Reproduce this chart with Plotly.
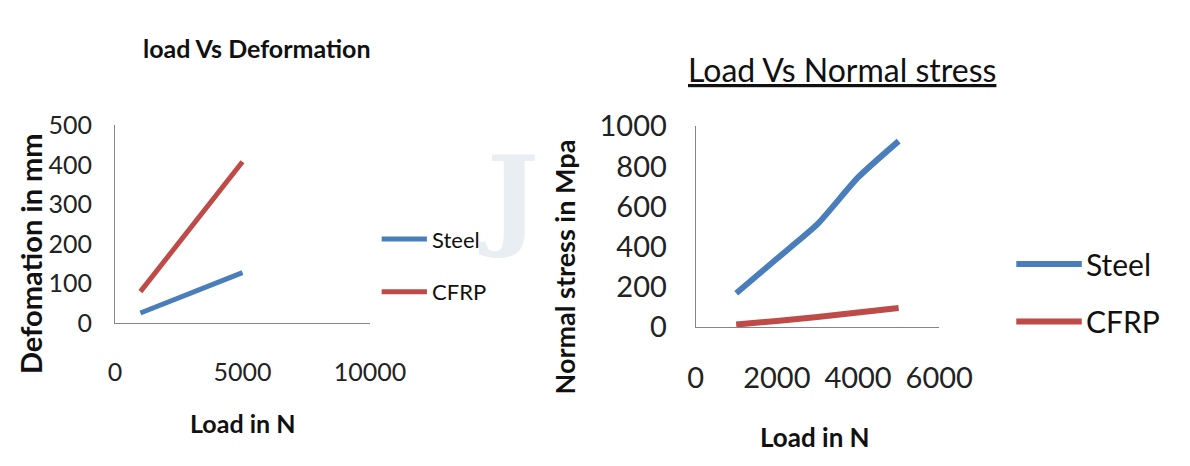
import plotly.graph_objects as go

W, H = 1190, 466

# Load vs deformation (left panel)
def_load = [1000, 5000]
def_steel = [26, 128]
def_cfrp = [80, 408]

# Load vs normal stress (right panel)
stress_load = [1000, 2000, 3000, 4000, 5000]
stress_steel = [168, 340, 512, 745, 926]
stress_cfrp = [12, 30, 50, 72, 95]

series_names = ["Steel", "CFRP"]
STEEL = "#4a7ebb"
CFRP = "#be4b48"
AXIS = "#868686"

FONT = "Lato, Open Sans, sans-serif"


def px(x):
    return x / W


def py(y):
    return 1 - y / H


fig = go.Figure()

fig.add_trace(go.Scatter(x=def_load, y=def_steel, mode="lines", name=series_names[0],
                         line=dict(color=STEEL, width=5), xaxis="x", yaxis="y",
                         showlegend=False))
fig.add_trace(go.Scatter(x=def_load, y=def_cfrp, mode="lines", name=series_names[1],
                         line=dict(color=CFRP, width=5), xaxis="x", yaxis="y",
                         showlegend=False))
fig.add_trace(go.Scatter(x=stress_load, y=stress_steel, mode="lines", name=series_names[0],
                         line=dict(color=STEEL, width=6, shape="spline", smoothing=0.6),
                         xaxis="x2", yaxis="y2", showlegend=False))
fig.add_trace(go.Scatter(x=stress_load, y=stress_cfrp, mode="lines", name=series_names[1],
                         line=dict(color=CFRP, width=6, shape="spline", smoothing=0.6),
                         xaxis="x2", yaxis="y2", showlegend=False))

common = dict(showgrid=False, zeroline=False, showline=True, linecolor=AXIS,
              linewidth=1, ticks="", fixedrange=True, tickformat="d")

fig.update_layout(
    width=W, height=H,
    margin=dict(l=0, r=0, t=0, b=0),
    paper_bgcolor="white", plot_bgcolor="white",
    xaxis=dict(domain=[px(111), px(376)], range=[0, 10000], tickvals=[0, 5000, 10000],
               anchor="y", ticklabelstandoff=27,
               tickfont=dict(family=FONT, size=25, color="#222"), **common),
    yaxis=dict(domain=[py(329), py(115)], range=[0, 500], dtick=100,
               anchor="x", ticklabelstandoff=17,
               tickfont=dict(family=FONT, size=25, color="#222"), **common),
    xaxis2=dict(domain=[px(714), px(967)], range=[0, 6000], dtick=2000,
                anchor="y2", ticklabelstandoff=25,
                tickfont=dict(family=FONT, size=29, color="#222"), **common),
    yaxis2=dict(domain=[py(333), py(116)], range=[0, 1000], dtick=200,
                anchor="x2", ticklabelstandoff=22,
                tickfont=dict(family=FONT, size=29, color="#222"), **common),
)

ann = []


def text(x, y, s, size, angle=0, bold=False, xanchor="center"):
    ann.append(dict(x=px(x), y=py(y), xref="paper", yref="paper", text=s,
                    showarrow=False, textangle=angle, xanchor=xanchor, yanchor="middle",
                    font=dict(family=FONT, size=size, color="#111",
                              weight="bold" if bold else "normal")))


# faint background mark
ann.append(dict(x=px(520), y=py(192), xref="paper", yref="paper", text="J",
                showarrow=False, xanchor="center", yanchor="middle",
                font=dict(family="DejaVu Serif", size=110, color="#e9eef3",
                          weight="bold")))

# titles
text(259, 31, "load Vs Deformation", 25, bold=True)
text(866, 55, "<u>Load Vs Normal stress</u>", 32)

# axis titles
text(24, 254, "Defomation in mm", 29, angle=-90, bold=True)
text(243, 437, "Load in N", 25, bold=True)
text(578, 268, "Normal stress in Mpa", 27, angle=-90, bold=True)
text(838, 452, "Load in N", 26, bold=True)

# legends
shapes = []
legend_specs = [
    # (line x0, line x1, y rows, text x, size, line width)
    (388, 435, [238, 295], 438, 22, 5),
    (1047, 1115, [265, 327], 1117, 30, 6),
]
for x0, x1, rows, tx, size, lw in legend_specs:
    for name, color, yy in zip(series_names, [STEEL, CFRP], rows):
        shapes.append(dict(type="line", xref="paper", yref="paper",
                           x0=px(x0), x1=px(x1), y0=py(yy), y1=py(yy),
                           line=dict(color=color, width=lw)))
        text(tx, yy, name, size, xanchor="left")

fig.update_layout(annotations=ann, shapes=shapes)

fig.write_html("out.html")
